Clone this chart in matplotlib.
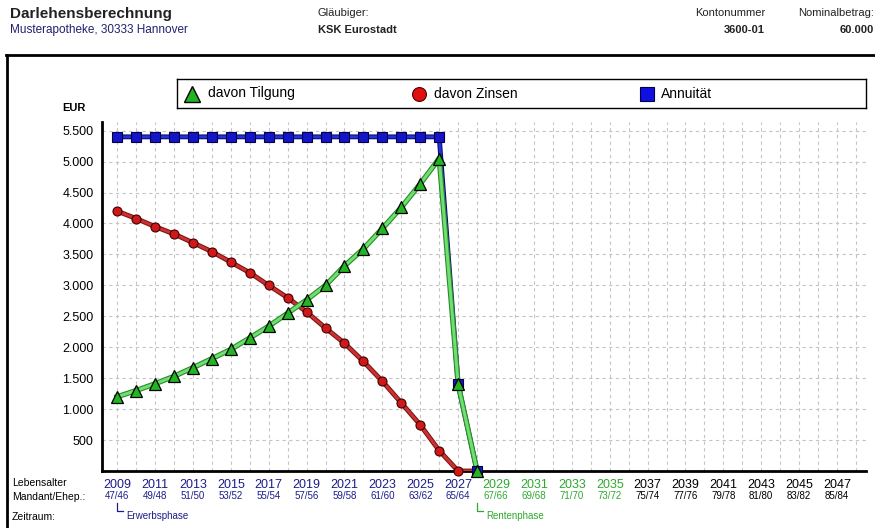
import matplotlib
matplotlib.use("Agg")
import matplotlib.pyplot as plt
import matplotlib.patheffects as pe
from matplotlib.lines import Line2D
from matplotlib.transforms import blended_transform_factory

plt.rcParams["font.family"] = ["Liberation Sans", "DejaVu Sans"]

#data
years = list(range(2009, 2029))
tilgung = [1200, 1300, 1410, 1530, 1670, 1815, 1965, 2150, 2340, 2550,
           2765, 3000, 3315, 3590, 3920, 4260, 4640, 5050, 1400, 0]
zinsen = [4200, 4080, 3950, 3830, 3690, 3545, 3375, 3205, 3000, 2800,
          2570, 2310, 2065, 1770, 1450, 1100, 745, 330, 0, 0]
annuitaet = [5400, 5400, 5400, 5400, 5400, 5400, 5400, 5400, 5400, 5400,
             5400, 5400, 5400, 5400, 5400, 5400, 5400, 5400, 1400, 0]

label_years = list(range(2009, 2048, 2))
ages = ["47/46", "49/48", "51/50", "53/52", "55/54", "57/56", "59/58", "61/60",
        "63/62", "65/64", "67/66", "69/68", "71/70", "73/72", "75/74", "77/76",
        "79/78", "81/80", "83/82", "85/84"]
yticks = [500, 1000, 1500, 2000, 2500, 3000, 3500, 4000, 4500, 5000, 5500]
legend_labels = ["davon Tilgung", "davon Zinsen", "Annuität"]

NAVY = "#1c1c8a"
GREEN = "#2ea82e"

def year_color(y):
    if y <= 2027:
        return NAVY
    if y <= 2035:
        return GREEN
    return "black"

fig = plt.figure(figsize=(8.75, 5.28), dpi=100)

#header
fig.text(10/875, 1-14/528, "Darlehensberechnung", fontsize=11, fontweight="bold",
         color="#222222", va="center")
fig.text(10/875, 1-30/528, "Musterapotheke, 30333 Hannover", fontsize=8.5,
         color="#202070", va="center")
fig.text(318/875, 1-13/528, "Gläubiger:", fontsize=8, color="#222222", va="center")
fig.text(318/875, 1-30/528, "KSK Eurostadt", fontsize=8, fontweight="bold",
         color="#222222", va="center")
fig.text(765/875, 1-13/528, "Kontonummer", fontsize=8, color="#222222",
         va="center", ha="right")
fig.text(765/875, 1-30/528, "3600-01", fontsize=8, fontweight="bold",
         color="#222222", va="center", ha="right")
fig.text(874/875, 1-13/528, "Nominalbetrag:", fontsize=8, color="#222222",
         va="center", ha="right")
fig.text(874/875, 1-30/528, "60.000", fontsize=8, fontweight="bold",
         color="#222222", va="center", ha="right")

#outer frame
fig.add_artist(Line2D([6.5/875, 6.5/875], [0, 1-55/528], transform=fig.transFigure,
                      color="black", lw=2))
fig.add_artist(Line2D([6/875, 1], [1-55/528, 1-55/528], transform=fig.transFigure,
                      color="black", lw=2))

ax = fig.add_axes([102/875, 57/528, 764/875, (471-122)/528])
ax.set_xlim(2008.2, 2048.53)
ax.set_ylim(0, 5640)

ax.set_xticks(label_years)
ax.set_xticks(range(2009, 2049), minor=True)
ax.set_yticks(yticks)
ax.set_yticklabels([f"{v:,}".replace(",", ".") for v in yticks], fontsize=9)
ax.set_xticklabels([str(y) for y in label_years], fontsize=9)
for lbl, y in zip(ax.get_xticklabels(), label_years):
    lbl.set_color(year_color(y))
ax.tick_params(axis="both", which="both", length=0, pad=6)
ax.grid(True, which="both", color="#c4c4c4", linestyle=(0, (3, 3)), linewidth=0.8)
ax.grid(False, axis="y", which="minor")
for s in ["top", "right"]:
    ax.spines[s].set_visible(False)
for s in ["left", "bottom"]:
    ax.spines[s].set_linewidth(2)

#lines
ax.plot(years, zinsen, color="#cc3030", lw=2,
        path_effects=[pe.Stroke(linewidth=3.5, foreground="#7a1515"), pe.Normal()], zorder=3)
ax.plot(years, annuitaet, color="#2233dd", lw=2,
        path_effects=[pe.Stroke(linewidth=3.5, foreground="#0a0a70"), pe.Normal()], zorder=3)
ax.plot(years, tilgung, color="#6fe06f", lw=2.2,
        path_effects=[pe.Stroke(linewidth=3.8, foreground="#2a8a2a"), pe.Normal()], zorder=4)

#markers
ax.plot(years, zinsen, ls="none", marker="o", ms=6.5, mfc="#d01818", mec="#400000",
        mew=0.8, zorder=5, clip_on=False)
ax.plot(years, annuitaet, ls="none", marker="s", ms=6.5, mfc="#1515c8", mec="#00004a",
        mew=0.8, zorder=5, clip_on=False)
ax.plot(years, tilgung, ls="none", marker="^", ms=8, mfc="#22b422", mec="black",
        mew=0.9, zorder=6, clip_on=False)

#EUR label
ax.text(-0.022, 1.04, "EUR", transform=ax.transAxes, fontsize=8, fontweight="bold",
        ha="right", va="center")

#second row: ages
trans = blended_transform_factory(ax.transData, fig.transFigure)
for y, a in zip(label_years, ages):
    ax.text(y, 1-496/528, a, transform=trans, fontsize=7, color=year_color(y),
            ha="center", va="center", clip_on=False)

#left labels
fig.text(12/875, 1-483/528, "Lebensalter", fontsize=7.5, va="center")
fig.text(12/875, 1-497/528, "Mandant/Ehep.:", fontsize=7.5, va="center")
fig.text(12/875, 1-517/528, "Zeitraum:", fontsize=7.5, va="center")

#phase brackets
for x0, txt, col in [(2009, "Erwerbsphase", NAVY), (2028, "Rentenphase", GREEN)]:
    ax.add_line(Line2D([x0, x0, x0 + 0.3], [1-503/528, 1-511/528, 1-511/528],
                       transform=trans, color=col, lw=0.9, clip_on=False))
    ax.text(x0 + 0.5, 1-516/528, txt, transform=trans, fontsize=7, color=col,
            ha="left", va="center", clip_on=False)

#legend box
lax = fig.add_axes([177/875, 1-108/528, 689/875, 29/528])
lax.set_xlim(177, 866)
lax.set_ylim(0, 1)
lax.set_xticks([])
lax.set_yticks([])
for s in lax.spines.values():
    s.set_linewidth(1)
legend_style = [
    dict(marker="^", ms=11, mfc="#22b422", mec="black", mew=1),
    dict(marker="o", ms=10, mfc="#e01010", mec="#500000", mew=0.8),
    dict(marker="s", ms=10, mfc="#1010e0", mec="#00004a", mew=0.8),
]
for xm, xt, txt, st in zip([192, 419, 647], [208, 434, 661], legend_labels, legend_style):
    lax.plot([xm], [0.5], ls="none", **st)
    lax.text(xt, 0.5, txt, fontsize=10, va="center", ha="left")

plt.savefig("out.png", dpi=100)
